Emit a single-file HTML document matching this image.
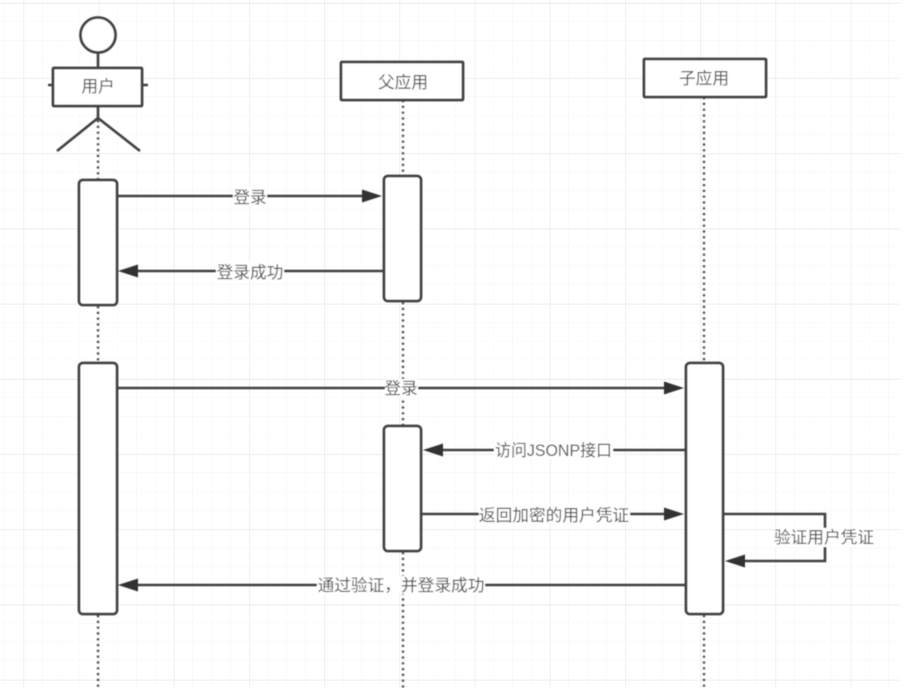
<!DOCTYPE html>
<html><head><meta charset="utf-8"><style>
html,body{margin:0;padding:0;background:#fff}
svg{display:block;width:922px;height:688px}
text{font-family:"Liberation Sans","Noto Sans CJK SC",sans-serif;font-size:16.7px;fill:#4d4d4d;text-anchor:middle}
.s{fill:none;stroke:#404040;stroke-width:2.6}
.b{fill:#fff;stroke:#404040;stroke-width:2.8}
.d{fill:none;stroke:#505050;stroke-width:2.4;stroke-dasharray:2.2 3.6}
.l{fill:#fff;stroke:none}
</style></head><body>
<svg xmlns="http://www.w3.org/2000/svg" width="922" height="688" viewBox="0 0 922 688">
<defs>
<pattern id="m" x="5" y="3" width="18.8" height="18.8" patternUnits="userSpaceOnUse"><path d="M18.8 0V18.8M0 18.8H18.8" fill="none" stroke="#f6f6f6" stroke-width="1"/></pattern>
<pattern id="g" x="23.5" y="3" width="75.2" height="75.2" patternUnits="userSpaceOnUse"><path d="M0 0V75.2M0 0H75.2" fill="none" stroke="#ececec" stroke-width="1.4"/></pattern>
<filter id="f" x="-2%" y="-2%" width="104%" height="104%"><feGaussianBlur stdDeviation="0.65"/></filter>
</defs>
<rect width="900" height="688" fill="url(#m)"/>
<rect width="900" height="688" fill="url(#g)"/>
<g filter="url(#f)">
<path class="d" d="M98 120V180M98 306V363M98 615V688M403 100V176M403 302V426M403 552V688M704 97V363M704 615V688"/>
<circle class="b" cx="98" cy="35" r="17.5"/>
<path class="s" d="M98 53V68M98 106V118M57 151L98 118L140 151M48 85H53M142 85H148"/>
<rect class="b" x="53" y="68" width="89" height="38" rx="1"/>
<text x="98" y="92">用户</text>
<rect class="b" x="341" y="62" width="122" height="38" rx="1"/>
<text x="403" y="88">父应用</text>
<rect class="b" x="644" y="59" width="122" height="38" rx="1"/>
<text x="704" y="84">子应用</text>
<rect class="b" x="79" y="180" width="38" height="125" rx="4"/>
<rect class="b" x="384" y="176" width="37" height="125" rx="4"/>
<rect class="b" x="79" y="363" width="38" height="251" rx="4"/>
<rect class="b" x="384" y="426" width="37" height="125" rx="4"/>
<rect class="b" x="686" y="363" width="37" height="251" rx="4"/>
<path class="s" d="M117 196H368M384 271H133M117 388H670M686 450H438M421 514H670M686 585H133M723 514H825V561H740"/>
<path fill="#333" d="M382 196L362 189.500V202.500ZM118 271L138 264.500V277.500ZM684 388L664 381.500V394.500ZM423 450L443 443.500V456.500ZM684 514L664 507.500V520.500ZM118 585L138 578.500V591.500ZM725 561L745 554.500V567.500Z"/>
<rect class="l" x="233" y="187" width="34" height="18"/><text x="250" y="203">登录</text>
<rect class="l" x="216" y="262" width="68" height="18"/><text x="250" y="278">登录成功</text>
<rect class="l" x="385" y="379" width="33" height="18"/><text x="401" y="394">登录</text>
<rect class="l" x="494" y="441" width="119" height="18"/><text x="553.500" y="456" textLength="117" lengthAdjust="spacingAndGlyphs">访问JSONP接口</text>
<rect class="l" x="479" y="505" width="151" height="18"/><text x="554" y="521">返回加密的用户凭证</text>
<rect class="l" x="774" y="528" width="100" height="19"/><text x="824" y="543">验证用户凭证</text>
<rect class="l" x="317" y="576" width="168" height="18"/><text x="401" y="591">通过验证，并登录成功</text>
</g>
</svg>
</body></html>
